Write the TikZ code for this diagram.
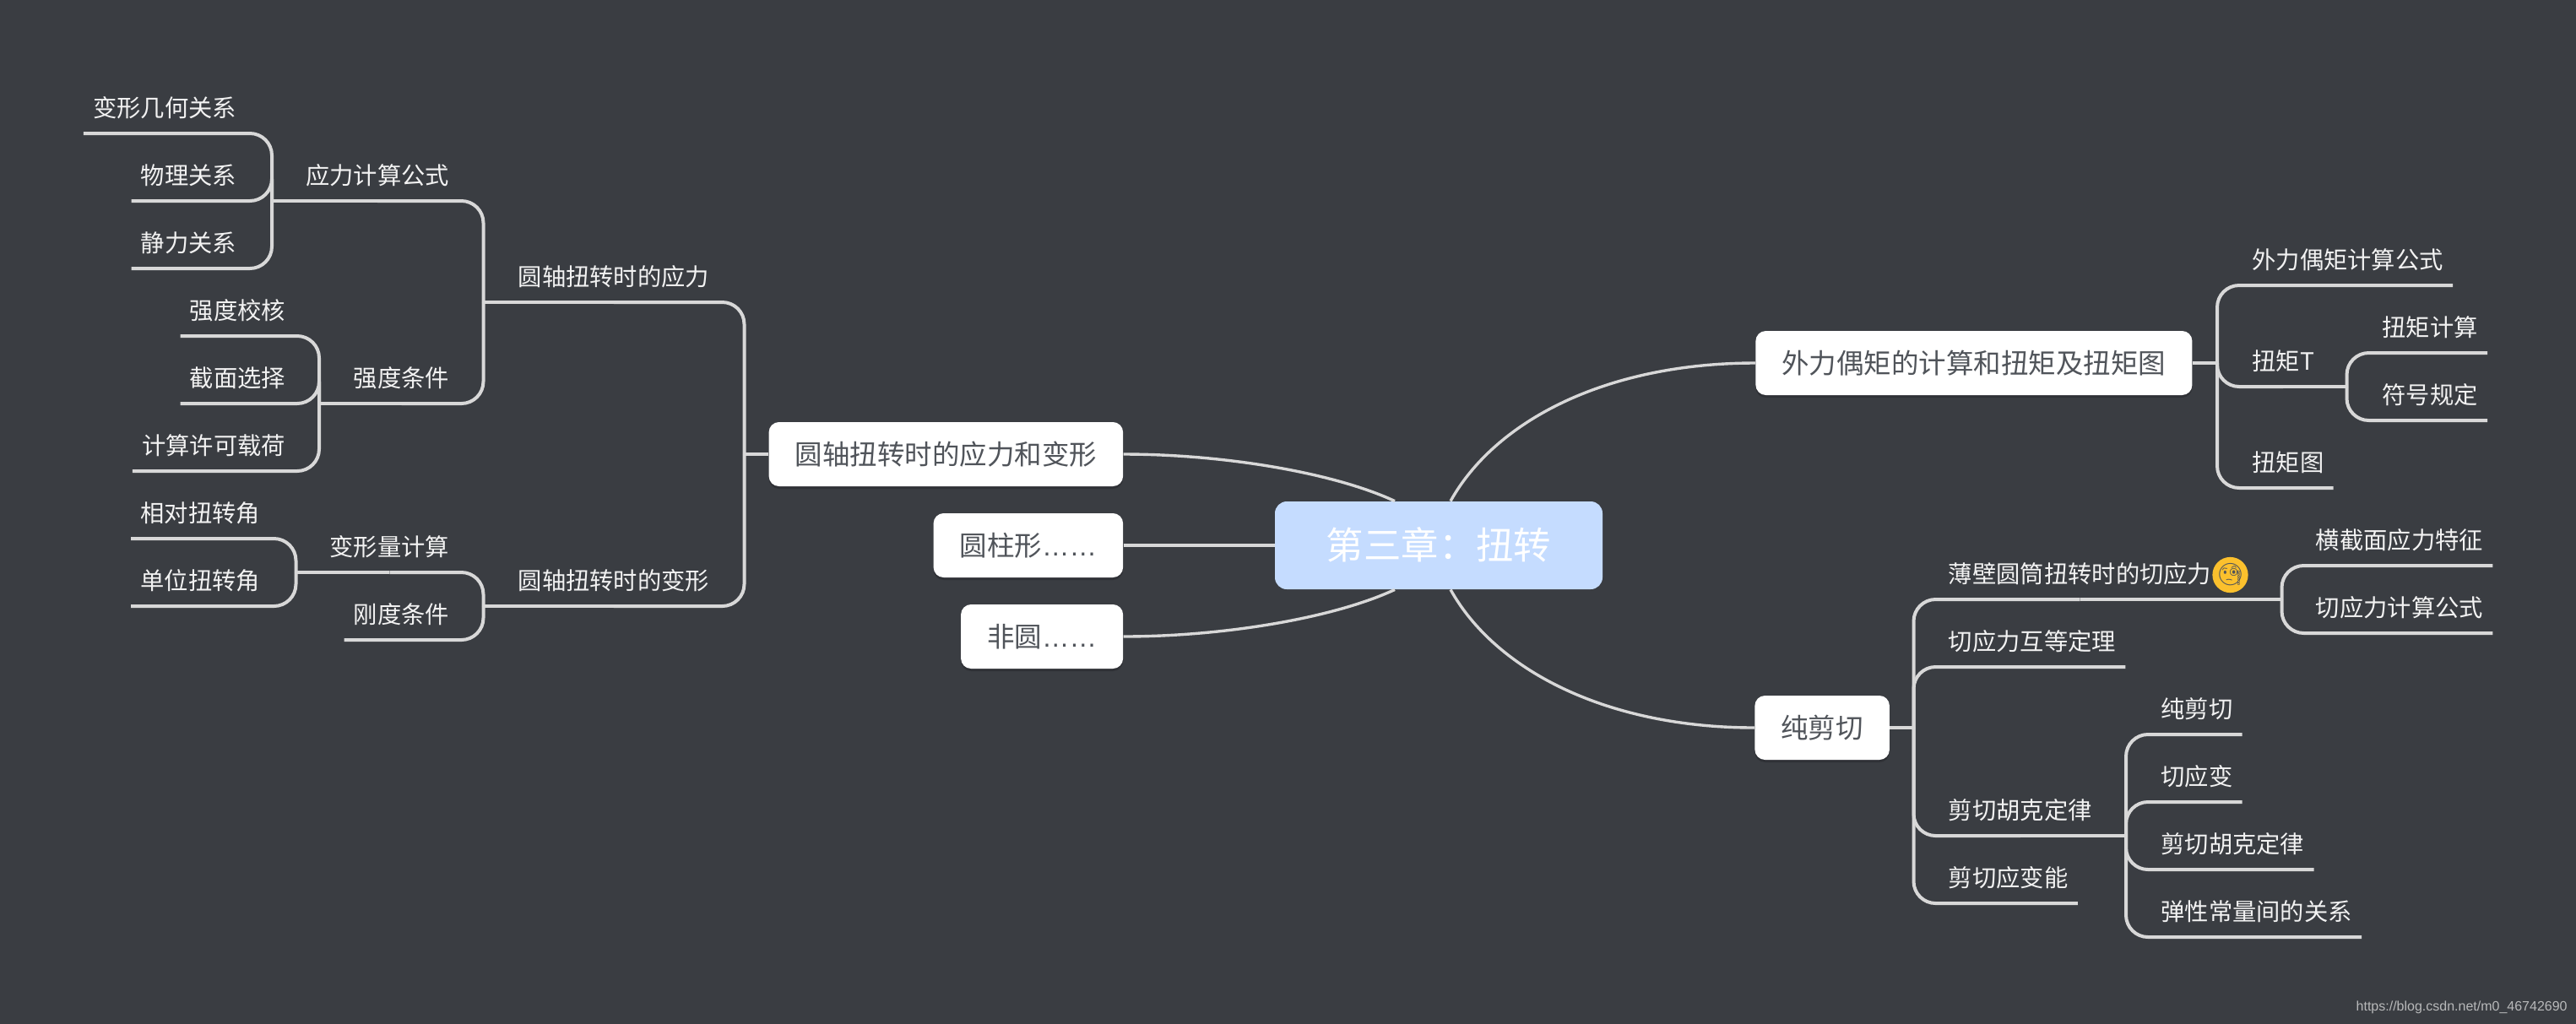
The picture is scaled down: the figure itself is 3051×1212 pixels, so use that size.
\documentclass[tikz,border=0pt]{standalone}
\usepackage{fontspec}
\setmainfont{Noto Sans CJK SC}
\newfontfamily\latinfont{Liberation Sans}
\newfontfamily\emojifont{Noto Emoji}
\usetikzlibrary{positioning,calc,shadows}
\definecolor{figbg}{HTML}{3A3D42}
\definecolor{figline}{HTML}{D8D8D8}
\definecolor{figtext}{HTML}{F2F2F2}
\definecolor{figdark}{HTML}{50545A}
\definecolor{figroot}{HTML}{C5DCFF}
\definecolor{figface}{HTML}{FBC02D}
\tikzset{
  lbl/.style={font=\fontsize{14.15}{17}\selectfont,text=figtext,inner xsep=5.5pt,inner ysep=2pt,
              text height=12.3pt,text depth=7.7pt},
  lbll/.style={lbl,anchor=south east},
  lblr/.style={lbl,anchor=south west},
  box/.style={fill=white,rounded corners=6pt,anchor=east,minimum height=38pt,inner xsep=15.5pt,
              font=\fontsize{16.25}{19}\selectfont,text=figdark,text height=14.1pt,text depth=1.9pt,
              drop shadow={shadow xshift=0pt,shadow yshift=-1.5pt,opacity=.18,fill=black}},
  rootbox/.style={fill=figroot,rounded corners=7pt,minimum width=194pt,minimum height=52pt,
              font=\fontsize{22.2}{26}\selectfont,text=white,text height=19.4pt,text depth=2.6pt},
  ln/.style={draw=figline,line width=2pt,rounded corners=13pt},
  crv/.style={draw=figline,line width=1.7pt},
}
\begin{document}
\begin{tikzpicture}[x=0.5pt,y=-0.5pt]
\useasboundingbox (0,0) rectangle (3051,1212);
\fill[figbg] (-5,-5) rectangle (3056,1217);

% centre
\node[rootbox] (root) at (1704,646) {第三章：扭转};
\node[box] (rising) at (1330.5,538) {圆轴扭转时的应力和变形};
\node[box] (cyl) at (1330.5,646) {圆柱形{\latinfont ……}};
\node[box] (nonc) at (1330.5,754) {非圆{\latinfont ……}};
\node[box,anchor=west] (ext) at (2079,430) {外力偶矩的计算和扭矩及扭矩图};
\node[box,anchor=west] (shear) at (2078,862) {纯剪切};

\draw[crv] (rising.east) .. controls (1450,538) and (1580,560) .. ($(root.north)+(-26pt,0)$);
\draw[ln] (cyl.east) -- (root.west);
\draw[crv] (nonc.east) .. controls (1450,754) and (1580,732) .. ($(root.south)+(-26pt,0)$);
\draw[crv] (ext.west) .. controls (1900,430) and (1770,500) .. ($(root.north)+(7pt,0)$);
\draw[crv] (shear.west) .. controls (1900,862) and (1770,792) .. ($(root.south)+(7pt,0)$);

% left side
\node[lbll] (geo) at (291.5,158) {变形几何关系};
\node[lbll] (phy) at (291.5,238) {物理关系};
\node[lbll] (sta) at (291.5,318) {静力关系};
\node[lbll] (stress) at (543.5,238) {应力计算公式};
\node[lbll] (chk) at (349.5,398) {强度校核};
\node[lbll] (sct) at (349.5,478) {截面选择};
\node[lbll] (load) at (349.5,558) {计算许可载荷};
\node[lbll] (cond) at (543.5,478) {强度条件};
\node[lbll] (angr) at (319.5,638) {相对扭转角};
\node[lbll] (angu) at (319.5,718) {单位扭转角};
\node[lbll] (defc) at (543.5,678) {变形量计算};
\node[lbll] (rig) at (543.5,758) {刚度条件};
\node[lbll] (ring) at (851.5,358) {圆轴扭转时的应力};
\node[lbll] (twist) at (851.5,718) {圆轴扭转时的变形};

\coordinate (stressj) at (322,238);
\coordinate (condj) at (378,478);
\coordinate (defj) at (350.5,678);
\coordinate (ringj) at (572.5,358);
\coordinate (twistj) at (572.5,718);
\coordinate (mainj) at (881.5,538);

\foreach \kid in {geo,phy,sta} \draw[ln] (\kid.south west) -| (stressj);
\foreach \kid in {chk,sct,load} \draw[ln] (\kid.south west) -| (condj);
\foreach \kid in {angr,angu} \draw[ln] (\kid.south west) -| (defj);
\draw[ln] (stressj) -- (stress.south);
\draw[ln] (stress.south) -| (ringj);
\draw[ln] (condj) -- (cond.south);
\draw[ln] (cond.south) -| (ringj);
\draw[ln] (defj) -- (defc.south);
\draw[ln] (defc.south) -| (twistj);
\draw[ln] (rig.south west) -| (twistj);
\draw[ln] (ringj) -- (ring.south);
\draw[ln] (ring.south) -| (mainj);
\draw[ln] (twistj) -- (twist.south);
\draw[ln] (twist.south) -| (mainj);
\draw[ln] (rising.west) -- (mainj);

% right side, upper
\node[lblr] (fml) at (2656,338) {外力偶矩计算公式};
\node[lblr] (tq) at (2656,458) {扭矩T};
\node[lblr] (tqd) at (2656,578) {扭矩图};
\node[lblr] (tqc) at (2810,418) {扭矩计算};
\node[lblr] (sgn) at (2810,498) {符号规定};

\coordinate (extj) at (2626,430);
\coordinate (tqj) at (2779.5,458);

\draw[ln] (ext.east) -- (extj);
\foreach \kid in {fml,tqd} \draw[ln] (\kid.south east) -| (extj);
\draw[ln] (tqj) -- (tq.south);
\draw[ln] (tq.south) -| (extj);
\foreach \kid in {tqc,sgn} \draw[ln] (\kid.south east) -| (tqj);

% right side, lower
\node[lblr] (thin) at (2296.5,710) {薄壁圆筒扭转时的切应力};
\node[circle,fill=figface,inner sep=0pt,minimum size=15.5pt,font=\fontsize{13}{15}\selectfont\emojifont,text=figdark]
  (face) at (2641.5,681) {🧐};
\node[lblr] (mut) at (2296.5,790) {切应力互等定理};
\node[lblr] (hk) at (2296.5,990) {剪切胡克定律};
\node[lblr] (ener) at (2296.5,1070) {剪切应变能};
\node[lblr] (sect) at (2731.5,670) {横截面应力特征};
\node[lblr] (tau) at (2731.5,750) {切应力计算公式};
\node[lblr] (ps) at (2548,870) {纯剪切};
\node[lblr] (gam) at (2548,950) {切应变};
\node[lblr] (hklaw) at (2548,1030) {剪切胡克定律};
\node[lblr] (elas) at (2548,1110) {弹性常量间的关系};

\coordinate (shj) at (2266.5,862);
\coordinate (thj) at (2702.5,710);
\coordinate (hkj) at (2518,990);

\draw[ln] (shear.east) -- (shj);
\foreach \kid in {mut,ener} \draw[ln] (\kid.south east) -| (shj);
\draw[ln] (thj) -- (thin.south);
\draw[ln] (thin.south) -| (shj);
\draw[ln] (hkj) -- (hk.south);
\draw[ln] (hk.south) -| (shj);
\foreach \kid in {sect,tau} \draw[ln] (\kid.south east) -| (thj);
\foreach \kid in {ps,gam,hklaw,elas} \draw[ln] (\kid.south east) -| (hkj);

\node[font=\fontsize{8}{10}\selectfont\latinfont,text=figline!80!figbg,anchor=east,inner sep=0pt] (mark) at (3041,1193)
  {https://blog.csdn.net/m0\_46742690};
\end{tikzpicture}
\end{document}
